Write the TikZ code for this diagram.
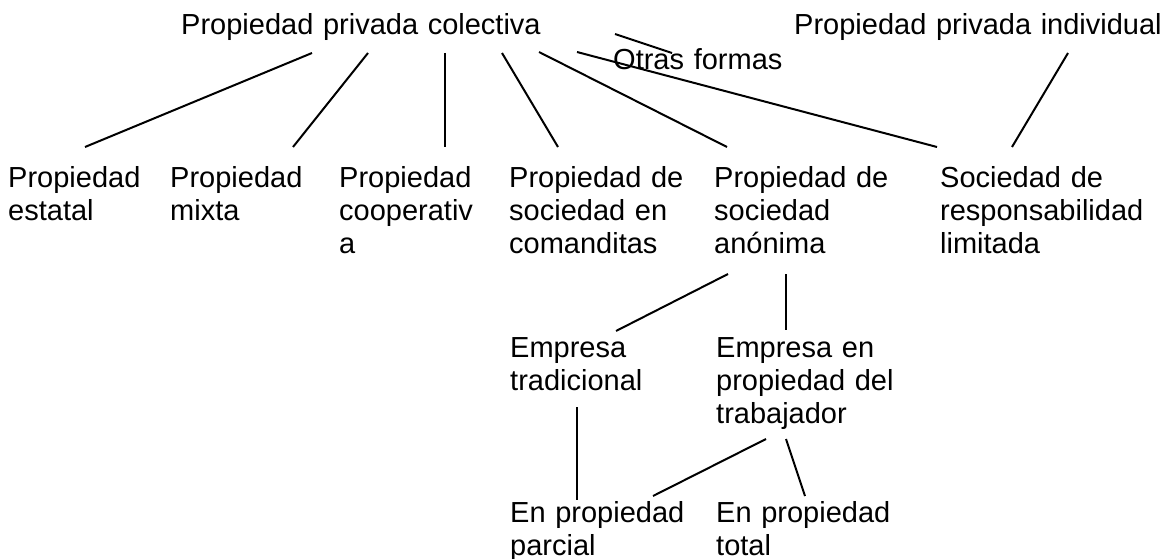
\documentclass[tikz,border=0pt]{standalone}
\usepackage{fontspec}
\setmainfont{Liberation Sans}
\tikzstyle{forma}=[anchor=base west, inner sep=0pt, align=left, text width=420pt, font=\fontsize{29}{33}\selectfont]
\tikzstyle{enlace}=[line width=2pt, black]

\begin{document}
\begin{tikzpicture}[x=1pt, y=-1pt]
			\useasboundingbox (0,0) rectangle (1167,559);

			% Top level
			\node[forma] (colectiva) at (181,35) {Propiedad privada colectiva};
			\node[forma] (otras) at (613,70) {Otras formas};
			\node[forma] (individual) at (794,35) {Propiedad privada individual};

			% Forms of collective property
			\node[forma] (estatal) at (8,187) {Propiedad\\estatal};
			\node[forma] (mixta) at (170,187) {Propiedad\\mixta};
			\node[forma] (cooperativa) at (339,187) {Propiedad\\cooperativ\\a};
			\node[forma] (comanditas) at (509,187) {Propiedad de\\sociedad en\\comanditas};
			\node[forma] (anonima) at (714,187) {Propiedad de\\sociedad\\anónima};
			\node[forma] (limitada) at (940,187) {Sociedad de\\responsabilidad\\limitada};

			% Kinds of firms
			\node[forma] (tradicional) at (510,357) {Empresa\\tradicional};
			\node[forma] (trabajador) at (716,357) {Empresa en\\propiedad del\\trabajador};
			\node[forma] (parcial) at (510,522) {En propiedad\\parcial};
			\node[forma] (total) at (716,522) {En propiedad\\total};

			% Line ends
			\coordinate (col-estatal) at (312,53);   \coordinate (estatal-top) at (85,147);
			\coordinate (col-mixta) at (368,53);     \coordinate (mixta-top) at (293,147);
			\coordinate (col-coop) at (445,53);      \coordinate (coop-top) at (445,147);
			\coordinate (col-coman) at (502,53);     \coordinate (coman-top) at (558,147);
			\coordinate (col-anon) at (539,52);      \coordinate (anon-top) at (727,147);
			\coordinate (col-limit) at (577,52);     \coordinate (limit-top) at (937,147);
			\coordinate (otras-a) at (615,34);       \coordinate (otras-b) at (672,53);
			\coordinate (indiv-bot) at (1068,53);    \coordinate (limit-right) at (1012,147);
			\coordinate (anon-left) at (728,274);    \coordinate (trad-top) at (616,331);
			\coordinate (anon-right) at (786,274);   \coordinate (trab-top) at (786,330);
			\coordinate (trad-bot) at (577,407);     \coordinate (parc-top) at (577,500);
			\coordinate (trab-left) at (766,439);    \coordinate (parc-right) at (653,496);
			\coordinate (trab-right) at (786,439);   \coordinate (total-top) at (805,496);

			\draw[enlace] (col-estatal) -- (estatal-top);
			\draw[enlace] (col-mixta) -- (mixta-top);
			\draw[enlace] (col-coop) -- (coop-top);
			\draw[enlace] (col-coman) -- (coman-top);
			\draw[enlace] (col-anon) -- (anon-top);
			\draw[enlace] (col-limit) -- (limit-top);
			\draw[enlace] (otras-a) -- (otras-b);
			\draw[enlace] (indiv-bot) -- (limit-right);

			\draw[enlace] (anon-left) -- (trad-top);
			\draw[enlace] (anon-right) -- (trab-top);
			\draw[enlace] (trad-bot) -- (parc-top);
			\draw[enlace] (trab-left) -- (parc-right);
			\draw[enlace] (trab-right) -- (total-top);
		\end{tikzpicture}
\end{document}
